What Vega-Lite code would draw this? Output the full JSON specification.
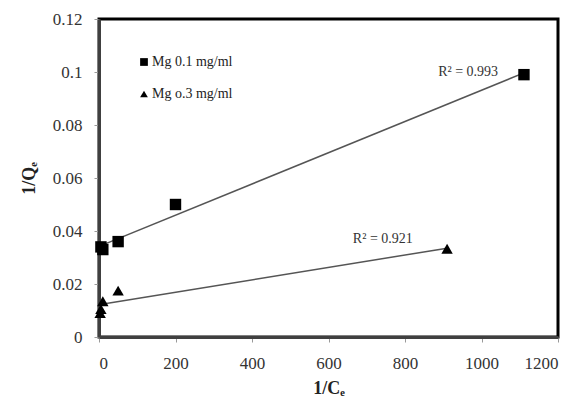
{
  "$schema": "https://vega.github.io/schema/vega-lite/v6.json",
  "width": 459,
  "height": 318,
  "autosize": {"type": "none"},
  "padding": {"left": 99, "top": 19, "right": 17, "bottom": 71},
  "background": "white",
  "config": {
    "view": {"stroke": "black", "strokeWidth": 3},
    "font": "Liberation Serif",
    "axis": {
      "grid": false,
      "domainColor": "#404040",
      "domainWidth": 3,
      "tickColor": "#999999",
      "tickSize": 5,
      "tickWidth": 1,
      "labelFont": "Liberation Serif",
      "labelFontSize": 17,
      "labelColor": "#333333",
      "titleFont": "Liberation Serif",
      "titleFontSize": 18,
      "titleFontWeight": "bold",
      "titleColor": "#222222"
    }
  },
  "datasets": {
    "pts": [
      {"x": 5, "y": 0.034, "s": "Mg 0.1 mg/ml"},
      {"x": 10, "y": 0.033, "s": "Mg 0.1 mg/ml"},
      {"x": 50, "y": 0.036, "s": "Mg 0.1 mg/ml"},
      {"x": 200, "y": 0.050, "s": "Mg 0.1 mg/ml"},
      {"x": 1111, "y": 0.099, "s": "Mg 0.1 mg/ml"},
      {"x": 3, "y": 0.009, "s": "Mg o.3 mg/ml"},
      {"x": 5, "y": 0.0105, "s": "Mg o.3 mg/ml"},
      {"x": 10, "y": 0.0135, "s": "Mg o.3 mg/ml"},
      {"x": 50, "y": 0.0175, "s": "Mg o.3 mg/ml"},
      {"x": 910, "y": 0.0333, "s": "Mg o.3 mg/ml"}
    ],
    "labels": [
      {"x": 965, "y": 0.1, "t": "R² = 0.993"},
      {"x": 742, "y": 0.037, "t": "R² = 0.921"}
    ]
  },
  "layer": [
    {
      "data": {"name": "pts"},
      "transform": [{"regression": "y", "on": "x", "groupby": ["s"]}],
      "mark": {"type": "line", "color": "#555555", "strokeWidth": 1.5},
      "encoding": {
        "x": {"field": "x", "type": "quantitative"},
        "y": {"field": "y", "type": "quantitative"},
        "detail": {"field": "s"}
      }
    },
    {
      "data": {"name": "pts"},
      "mark": {"type": "point", "filled": true, "color": "black", "opacity": 1, "size": 130},
      "encoding": {
        "x": {
          "field": "x", "type": "quantitative",
          "scale": {"domain": [0, 1200], "nice": false},
          "axis": {"values": [0, 200, 400, 600, 800, 1000, 1200], "format": "d", "labelPadding": 13, "title": "1/Cₑ", "titlePadding": 8}
        },
        "y": {
          "field": "y", "type": "quantitative",
          "scale": {"domain": [0, 0.12], "nice": false},
          "axis": {"values": [0, 0.02, 0.04, 0.06, 0.08, 0.1, 0.12], "labelExpr": "'' + datum.value", "labelPadding": 12, "title": "1/Qₑ", "titlePadding": 14}
        },
        "shape": {
          "field": "s", "type": "nominal",
          "scale": {"domain": ["Mg 0.1 mg/ml", "Mg o.3 mg/ml"], "range": ["square", "triangle-up"]},
          "legend": {
            "title": null,
            "orient": "none",
            "legendX": 38,
            "legendY": 36,
            "labelFont": "Liberation Serif",
            "labelFontSize": 14,
            "labelColor": "#222222",
            "symbolSize": 60,
            "symbolFillColor": "black",
            "symbolStrokeColor": "black",
            "labelOffset": 1,
            "rowPadding": 18
          }
        }
      }
    },
    {
      "data": {"name": "labels"},
      "mark": {"type": "text", "font": "Liberation Serif", "fontSize": 14, "color": "#333333"},
      "encoding": {
        "x": {"field": "x", "type": "quantitative"},
        "y": {"field": "y", "type": "quantitative"},
        "text": {"field": "t"}
      }
    }
  ]
}
